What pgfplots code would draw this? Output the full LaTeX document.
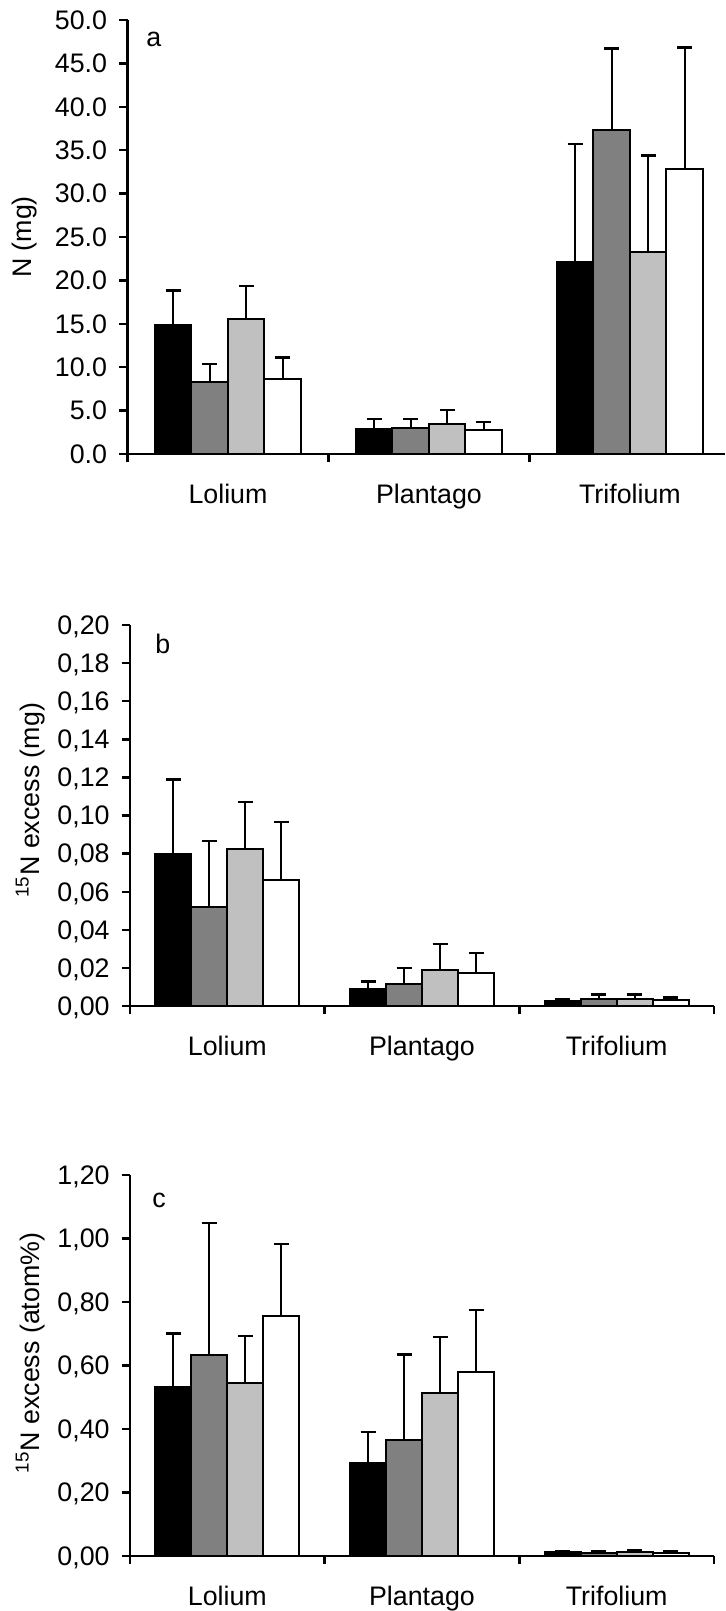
\documentclass[border=0pt]{standalone}
\usepackage{fontspec}
\setmainfont{Liberation Sans}
\usepackage{pgfplots}
\pgfplotsset{compat=1.18}
\definecolor{dgray}{RGB}{128,128,128}
\definecolor{lgray}{RGB}{192,192,192}

\pgfplotsset{
  panel/.style={
    scale only axis,
    ybar=0pt,
    xmin=-0.5, ymin=0,
    axis x line*=bottom, axis y line*=left,
    axis line style={line width=1.2pt,-},
    every tick/.style={line width=1.2pt, black},
    tick align=outside,
    major tick length=4pt,
    xtick={-0.5,0.5,1.5,2.5}, xticklabels={},
    extra x ticks={0,1,2},
    extra x tick labels={Lolium,Plantago,Trifolium},
    extra x tick style={major tick length=0pt},
    xticklabel style={anchor=north, inner sep=0pt, text depth=0pt},
    xticklabel shift=15pt,
    yticklabel style={anchor=east, inner sep=0pt, text depth=0pt},
    yticklabel shift=6pt,
    /pgf/number format/assume math mode=true,
    every axis plot/.append style={draw=black, line width=1pt},
    error bars/y dir=plus,
    error bars/y explicit,
    error bars/error bar style={line width=1pt, black},
    error bars/error mark options={rotate=90, line width=1.2pt, black, mark size=3.75pt},
  }
}

\begin{document}
\begin{tikzpicture}[font=\fontsize{13.4}{16}\selectfont]
\useasboundingbox (0,0) rectangle (362.5pt,-805.5pt);

% ---------- panel a ----------
\begin{axis}[panel,
  at={(63.75pt,-227pt)}, anchor=south west,
  width=298.75pt, height=217pt,
  xmax=2.473, ymax=50,
  bar width=18.25pt,
  ytick={0,5,10,15,20,25,30,35,40,45,50},
  yticklabel style={/pgf/number format/.cd, fixed, fixed zerofill, precision=1},
  ylabel={N (mg)},
  every axis y label/.style={at={(axis description cs:-0.1716,0.5)}, rotate=90, anchor=center},
]
\addplot[fill=black] coordinates {(0,14.83) +- (0,4.02) (1,2.87) +- (0,1.15) (2,22.15) +- (0,13.56)};
\addplot[fill=dgray] coordinates {(0,8.24) +- (0,2.10) (1,3.03) +- (0,0.99) (2,37.28) +- (0,9.46)};
\addplot[fill=lgray] coordinates {(0,15.52) +- (0,3.83) (1,3.45) +- (0,1.61) (2,23.30) +- (0,11.07)};
\addplot[fill=white] coordinates {(0,8.62) +- (0,2.49) (1,2.80) +- (0,0.92) (2,32.80) +- (0,14.02)};
\node[anchor=base west, inner sep=0pt] at (axis cs:-0.408,46.9) {a};
\end{axis}

% ---------- panel b ----------
\begin{axis}[panel,
  at={(65pt,-503pt)}, anchor=south west,
  width=292pt, height=190.5pt,
  xmax=2.5, ymax=0.2,
  bar width=18pt,
  ytick={0,0.02,0.04,0.06,0.08,0.10,0.12,0.14,0.16,0.18,0.20},
  yticklabel style={/pgf/number format/.cd, fixed, fixed zerofill, precision=2, use comma},
  ylabel={\textsuperscript{15}N excess (mg)},
  every axis y label/.style={at={(axis description cs:-0.171,0.54)}, rotate=90, anchor=center},
]
\addplot[fill=black] coordinates {(0,0.0797) +- (0,0.0391) (1,0.0087) +- (0,0.0041) (2,0.0026) +- (0,0.0012)};
\addplot[fill=dgray] coordinates {(0,0.0520) +- (0,0.0345) (1,0.0114) +- (0,0.0087) (2,0.0035) +- (0,0.0026)};
\addplot[fill=lgray] coordinates {(0,0.0826) +- (0,0.0245) (1,0.0189) +- (0,0.0136) (2,0.0037) +- (0,0.0024)};
\addplot[fill=white] coordinates {(0,0.0660) +- (0,0.0306) (1,0.0175) +- (0,0.0104) (2,0.0031) +- (0,0.0013)};
\node[anchor=base west, inner sep=0pt] at (axis cs:-0.372,0.1853) {b};
\end{axis}

% ---------- panel c ----------
\begin{axis}[panel,
  at={(65pt,-778pt)}, anchor=south west,
  width=292pt, height=190.5pt,
  xmax=2.5, ymax=1.2,
  bar width=18pt,
  ytick={0,0.2,0.4,0.6,0.8,1.0,1.2},
  yticklabel style={/pgf/number format/.cd, fixed, fixed zerofill, precision=2, use comma},
  ylabel={\textsuperscript{15}N excess (atom\%)},
  every axis y label/.style={at={(axis description cs:-0.171,0.533)}, rotate=90, anchor=center},
]
\addplot[fill=black] coordinates {(0,0.531) +- (0,0.170) (1,0.294) +- (0,0.096) (2,0.012) +- (0,0.004)};
\addplot[fill=dgray] coordinates {(0,0.633) +- (0,0.415) (1,0.365) +- (0,0.270) (2,0.010) +- (0,0.004)};
\addplot[fill=lgray] coordinates {(0,0.544) +- (0,0.149) (1,0.515) +- (0,0.174) (2,0.013) +- (0,0.006)};
\addplot[fill=white] coordinates {(0,0.756) +- (0,0.226) (1,0.581) +- (0,0.194) (2,0.010) +- (0,0.004)};
\node[anchor=base west, inner sep=0pt] at (axis cs:-0.387,1.099) {c};
\end{axis}
\end{tikzpicture}
\end{document}
